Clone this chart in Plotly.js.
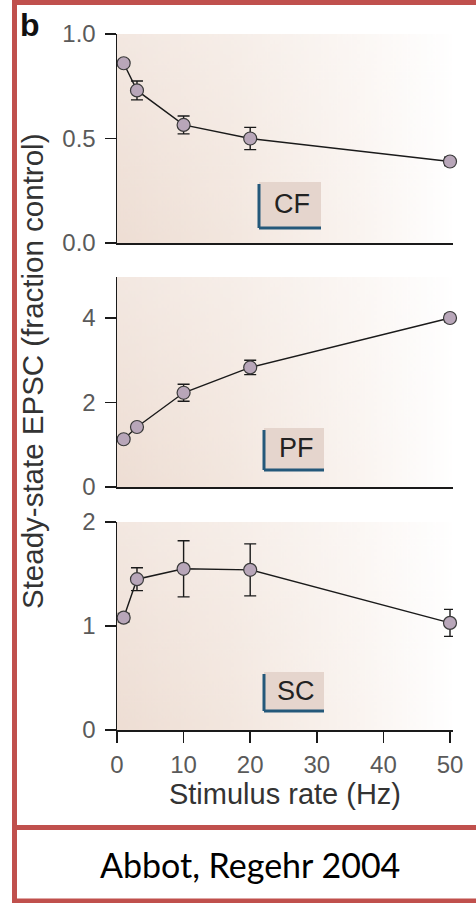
<!DOCTYPE html>
<html>
<head>
<meta charset="utf-8">
<script src="https://cdn.plot.ly/plotly-3.0.1.min.js"></script>
<style>html,body{margin:0;padding:0;background:#fff;}#chart{width:476px;height:903px;}</style>
</head>
<body>
<div id="chart"></div>
<script>
// ---- data ----
const rate = [1, 3, 10, 20, 50];
const cfVals = [0.86, 0.73, 0.565, 0.50, 0.39];
const cfErr  = [0.015, 0.045, 0.043, 0.053, 0.02];
const pfVals = [1.13, 1.42, 2.23, 2.83, 4.0];
const pfErr  = [0.05, 0.07, 0.20, 0.17, 0.09];
const scVals = [1.08, 1.45, 1.55, 1.54, 1.03];
const scErr  = [0.04, 0.11, 0.27, 0.25, 0.13];
const panelLabels = ['CF', 'PF', 'SC'];
const xTickVals = [0, 10, 20, 30, 40, 50];
const xTickText = ['0', '10', '20', '30', '40', '50'];
const cfTickVals = [0, 0.5, 1.0];
const cfTickText = ['0.0', '0.5', '1.0'];
const pfTickVals = [0, 2, 4];
const pfTickText = ['0', '2', '4'];
const scTickVals = [0, 1, 2];
const scTickText = ['0', '1', '2'];
const xTitle = 'Stimulus rate (Hz)';
const yTitle = 'Steady-state EPSC (fraction control)';
const panelLetter = 'b';
const caption = 'Abbot, Regehr 2004';

// ---- geometry helpers ----
const W = 476, H = 903;
const px = v => v / W;
const py = v => 1 - v / H;
const SANS = 'Arial, "Liberation Sans", Helvetica, sans-serif';

const X0 = 117, X1 = 453;
const panels = [
  {top: 34, bottom: 243, range: [0, 1.0]},
  {top: 277, bottom: 487, range: [0, 4.97]},
  {top: 522, bottom: 730, range: [0, 2.0]}
];

function gradientURL() {
  const c = document.createElement('canvas');
  c.width = 240; c.height = 120;
  const g = c.getContext('2d');
  const lg = g.createLinearGradient(0, 0, 240, 0);
  lg.addColorStop(0, 'rgb(238,222,212)');
  lg.addColorStop(0.35, 'rgb(243,231,223)');
  lg.addColorStop(0.72, 'rgb(250,244,240)');
  lg.addColorStop(1, 'rgb(255,255,255)');
  g.fillStyle = lg; g.fillRect(0, 0, 240, 120);
  const vg = g.createLinearGradient(0, 0, 0, 120);
  vg.addColorStop(0, 'rgba(255,255,255,0.3)');
  vg.addColorStop(1, 'rgba(255,255,255,0)');
  g.fillStyle = vg; g.fillRect(0, 0, 240, 120);
  return c.toDataURL('image/png');
}
const bg = gradientURL();

const markerStyle = {size: 13, color: '#b8a6b9', line: {color: '#3a3a3a', width: 1.2}};
const lineStyle = {color: '#1a1a1a', width: 1.4};
function trace(y, err, i) {
  const s = i === 0 ? '' : String(i + 1);
  return {
    x: rate, y: y, type: 'scatter', mode: 'lines+markers',
    xaxis: 'x' + s, yaxis: 'y' + s,
    line: lineStyle, marker: markerStyle,
    error_y: {type: 'data', array: err, visible: true, color: '#1a1a1a', thickness: 1.4, width: 6},
    hoverinfo: 'skip', showlegend: false, cliponaxis: false
  };
}
const data = [trace(cfVals, cfErr, 0), trace(pfVals, pfErr, 1), trace(scVals, scErr, 2)];

const tickFont = {family: SANS, size: 24, color: '#5a5a5a'};
const xr = [0, 50.45];
function xAxis(anchor, showLabels, i) {
  return {
    domain: [px(X0), px(X1)], range: xr, anchor: anchor,
    showline: true, linecolor: '#1a1a1a', linewidth: 1.5,
    showgrid: false, zeroline: false,
    ticks: showLabels ? 'outside' : '', ticklen: 11, tickwidth: 1.5, tickcolor: '#1a1a1a',
    tickvals: xTickVals, ticktext: xTickText, showticklabels: showLabels,
    tickfont: tickFont, ticklabelstandoff: 2,
    matches: i === 0 ? undefined : 'x'
  };
}
function yAxis(p, anchor, tv, tt) {
  return {
    domain: [py(p.bottom), py(p.top)], range: p.range, anchor: anchor,
    showline: true, linecolor: '#1a1a1a', linewidth: 1.5,
    showgrid: false, zeroline: false,
    ticks: 'outside', ticklen: 11, tickwidth: 1.5, tickcolor: '#1a1a1a',
    tickvals: tv, ticktext: tt, tickfont: tickFont, ticklabelstandoff: 4
  };
}

const layout = {
  width: W, height: H,
  margin: {l: 0, r: 0, t: 0, b: 0},
  paper_bgcolor: '#ffffff', plot_bgcolor: 'rgba(0,0,0,0)',
  xaxis: xAxis('y', false, 0),
  xaxis2: xAxis('y2', false, 1),
  xaxis3: Object.assign(xAxis('y3', true, 2), {
    title: {text: xTitle, font: {family: SANS, size: 29, color: '#333'}, standoff: 5}
  }),
  yaxis: yAxis(panels[0], 'x', cfTickVals, cfTickText),
  yaxis2: yAxis(panels[1], 'x2', pfTickVals, pfTickText),
  yaxis3: yAxis(panels[2], 'x3', scTickVals, scTickText),
  images: panels.map(p => ({
    source: bg, xref: 'paper', yref: 'paper',
    x: px(X0), y: py(p.top), sizex: px(X1) - px(X0), sizey: (p.bottom - p.top) / H,
    sizing: 'stretch', layer: 'below', xanchor: 'left', yanchor: 'top'
  })),
  shapes: [],
  annotations: []
};

// label boxes
const boxes = [
  {x0: 259, x1: 321, y0: 182, y1: 228},
  {x0: 264, x1: 324, y0: 428, y1: 470},
  {x0: 264, x1: 324, y0: 672, y1: 711}
];
boxes.forEach((b, i) => {
  layout.shapes.push({type: 'rect', xref: 'paper', yref: 'paper', layer: 'above',
    x0: px(b.x0), x1: px(b.x1), y0: py(b.y1), y1: py(b.y0),
    fillcolor: '#e5d5cd', line: {width: 0}});
  layout.shapes.push({type: 'line', xref: 'paper', yref: 'paper', layer: 'above',
    x0: px(b.x0), x1: px(b.x0), y0: py(b.y1), y1: py(b.y0 + 2),
    line: {color: '#24587a', width: 3}});
  layout.shapes.push({type: 'line', xref: 'paper', yref: 'paper', layer: 'above',
    x0: px(b.x0), x1: px(b.x1), y0: py(b.y1), y1: py(b.y1),
    line: {color: '#24587a', width: 3}});
  layout.annotations.push({xref: 'paper', yref: 'paper', showarrow: false,
    x: px((b.x0 + b.x1) / 2 + 2), y: py((b.y0 + b.y1) / 2 - 1), text: panelLabels[i],
    font: {family: SANS, size: 27, color: '#222'},
    xanchor: 'center', yanchor: 'middle'});
});

// red frame
const red = '#c0504d';
[[12, 2.5, 476, 2.5], [14.5, 0, 14.5, 903], [12, 827.5, 476, 827.5], [12, 901, 476, 901]].forEach(l => {
  layout.shapes.push({type: 'line', xref: 'paper', yref: 'paper', layer: 'above',
    x0: px(l[0]), y0: py(l[1]), x1: px(l[2]), y1: py(l[3]), line: {color: red, width: 5}});
});

layout.annotations.push({xref: 'paper', yref: 'paper', showarrow: false,
  x: px(32), y: py(372), text: yTitle, textangle: -90,
  font: {family: SANS, size: 29.5, color: '#333'},
  xanchor: 'center', yanchor: 'middle'});
layout.annotations.push({xref: 'paper', yref: 'paper', showarrow: false,
  x: px(18), y: py(25), text: '<b>' + panelLetter + '</b>',
  font: {family: SANS, size: 32, color: '#111'},
  xanchor: 'left', yanchor: 'middle'});
layout.annotations.push({xref: 'paper', yref: 'paper', showarrow: false,
  x: px(250), y: py(864), text: caption,
  font: {family: 'Lato, "Open Sans", sans-serif', size: 34, color: '#000'},
  xanchor: 'center', yanchor: 'middle'});

Plotly.newPlot('chart', data, layout, {staticPlot: true, displayModeBar: false});
</script>
</body>
</html>
